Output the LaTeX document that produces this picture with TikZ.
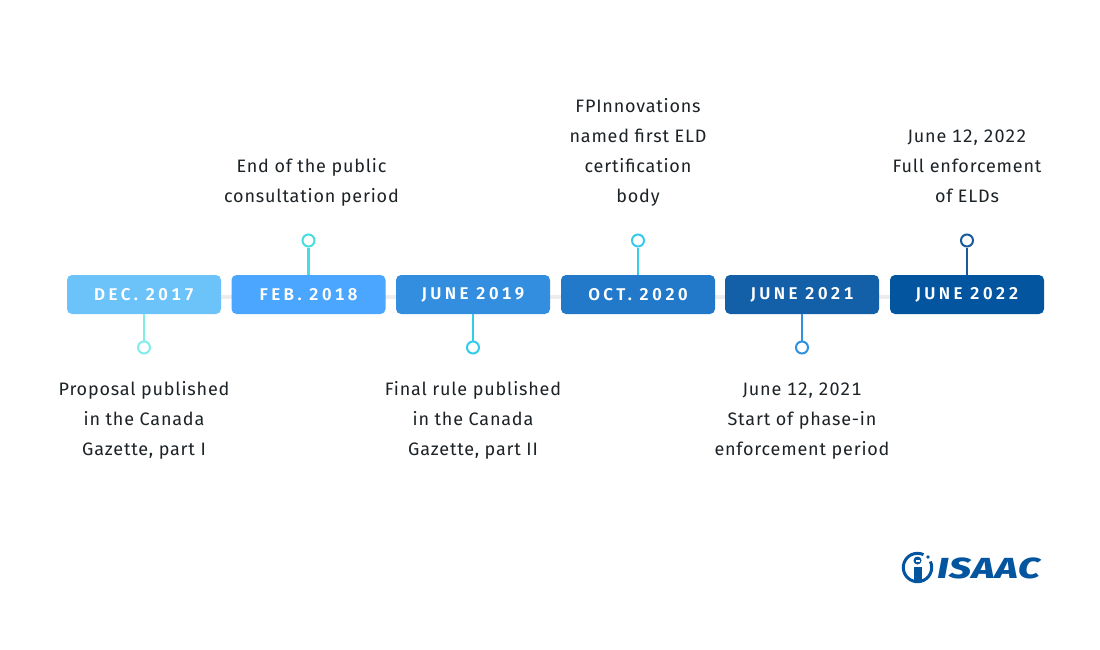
\documentclass[tikz,border=0pt]{standalone}
\usepackage{fontspec}
\setmainfont{Fira Sans}
\newfontfamily\bodyfont[LetterSpace=4.5,Numbers=Monospaced]{Fira Sans}
\newfontfamily\datefont[LetterSpace=20,Numbers=Monospaced]{Fira Sans SemiBold}
\newfontfamily\logofont[LetterSpace=2]{Fira Sans ExtraBold Italic}
\definecolor{b1}{HTML}{6BC3FA}\definecolor{b2}{HTML}{4AA6FF}\definecolor{b3}{HTML}{338EE0}
\definecolor{b4}{HTML}{2279C9}\definecolor{b5}{HTML}{135FA8}\definecolor{b6}{HTML}{03559F}
\definecolor{s1}{HTML}{80EDE8}\definecolor{s2}{HTML}{45DEDD}\definecolor{s3}{HTML}{33CDEB}
\definecolor{s4}{HTML}{38CBEE}\definecolor{s5}{HTML}{2F92DE}\definecolor{s6}{HTML}{1A5A9B}
\definecolor{txt}{HTML}{1C2226}
\tikzset{
 x=1pt,y=-1pt,
 datebox/.style={draw=none,fill=#1,rounded corners=5pt,minimum width=154pt,minimum height=39pt,inner sep=0pt,
   text=white,font=\datefont\fontsize{17}{17}\selectfont},
 dot/.style={circle,draw=#1,line width=2pt,fill=white,minimum size=12pt,inner sep=0pt},
 stem/.style={draw=#1,line width=2.2pt},
 note/.style={align=center,inner sep=0pt,text=txt,font=\bodyfont\fontsize{18}{30}\selectfont},
}
\begin{document}
\begin{tikzpicture}
\useasboundingbox (0,0) rectangle (1100,650);
\fill[white] (0,0) rectangle (1100,650);
\coordinate (railL) at (221,297);
\coordinate (railR) at (890,297);
\draw[line width=4pt,color=black!7] (railL) -- (railR);
\node[datebox=b1] (d1) at (144,294.5) {DEC. 2017};
\node[datebox=b2] (d2) at (308.5,294.5) {FEB. 2018};
\node[datebox=b3] (d3) at (473,294.5) {JUNE 2019};
\node[datebox=b4] (d4) at (638,294.5) {OCT. 2020};
\node[datebox=b5] (d5) at (802,294.5) {JUNE 2021};
\node[datebox=b6] (d6) at (967,294.5) {JUNE 2022};
\node[dot=s1] (c1) at (144,347.5) {};
\node[dot=s2] (c2) at (308.5,240.5) {};
\node[dot=s3] (c3) at (473,347.5) {};
\node[dot=s4] (c4) at (638,240.5) {};
\node[dot=s5] (c5) at (802,347.5) {};
\node[dot=s6] (c6) at (967,240.5) {};
\draw[stem=s1] (d1.south) -- (c1.north);
\draw[stem=s2] (d2.north) -- (c2.south);
\draw[stem=s3] (d3.south) -- (c3.north);
\draw[stem=s4] (d4.north) -- (c4.south);
\draw[stem=s5] (d5.south) -- (c5.north);
\draw[stem=s6] (d6.north) -- (c6.south);
\node[note] (t1) at (144,420) {Proposal published\\in the Canada\\Gazette, part I};
\node[note] (t2) at (311.5,182) {End of the public\\consultation period};
\node[note] (t3) at (473,420) {Final rule published\\in the Canada\\Gazette, part II};
\node[note] (t4) at (638,152) {FPInnovations\\named first ELD\\certification\\body};
\node[note] (t5) at (802,421) {June 12, 2021\\Start of phase-in\\enforcement period};
\node[note] (t6) at (967,166) {June 12, 2022\\Full enforcement\\of ELDs};
% logo
\draw[b6,line width=3pt] (917.5,567.5) ++(-25:14.2) arc[start angle=-25,delta angle=320,radius=14.2];
\fill[b6] (928,557) circle (1.8pt);
\fill[b6] (913.5,566.5) rectangle (921.5,580);
\fill[b6] (917.5,560.5) circle (4pt);
\fill[white] (915.5,559.5) rectangle (919.5,561.5);
\node[anchor=west,inner sep=0pt,text=b6,xscale=1.33,font=\logofont\fontsize{29}{29}\selectfont] (logotext) at (937,568) {ISAAC};
\end{tikzpicture}
\end{document}
